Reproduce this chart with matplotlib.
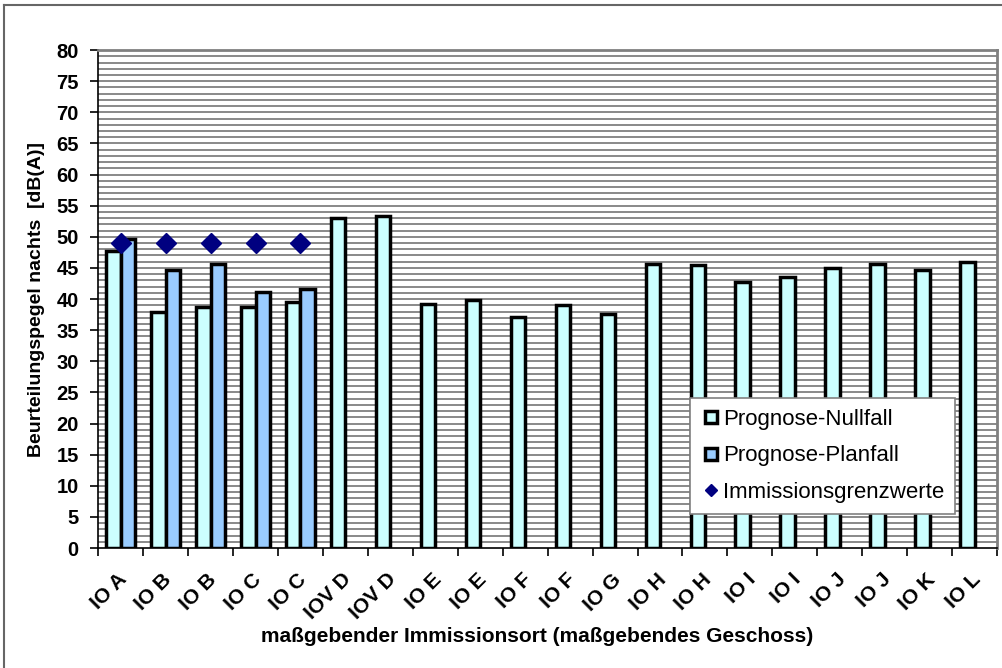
import numpy as np
import matplotlib
matplotlib.use("Agg")
import matplotlib.pyplot as plt
from matplotlib.lines import Line2D

plt.rcParams['font.family'] = ['Liberation Sans', 'DejaVu Sans']

# Daten
orte = ["IO A", "IO B", "IO B", "IO C", "IO C", "IOV D", "IOV D", "IO E", "IO E",
        "IO F", "IO F", "IO G", "IO H", "IO H", "IO I", "IO I", "IO J", "IO J",
        "IO K", "IO L"]
nullfall = [47.8, 37.9, 38.7, 38.7, 39.5, 53.0, 53.3, 39.2, 39.8, 37.1, 39.0,
            37.6, 45.7, 45.4, 42.7, 43.5, 45.0, 45.6, 44.6, 45.9]
planfall = [49.6, 44.6, 45.7, 41.1, 41.6]
grenzwerte = [49, 49, 49, 49, 49]

fig = plt.figure(figsize=(10.03, 6.68), dpi=100)
ax = fig.add_axes([0.098, 0.1796, 0.896, 0.7454])

x = np.arange(len(orte))
w = 0.32
ax.bar(x - 0.16, nullfall, w, color='#CCFFFF', edgecolor='black', linewidth=2.5, zorder=3)
xp = np.arange(len(planfall))
ax.bar(xp + 0.16, planfall, w, color='#99CCFF', edgecolor='black', linewidth=2.5, zorder=3)
ax.plot(xp, grenzwerte, linestyle='none', marker='D', markersize=10,
        color='#000080', zorder=4)

# dichte Gitterlinien
for v in range(1, 81):
    ax.axhline(v, color='#808080', linewidth=1.3, zorder=1)

ax.set_xlim(-0.5, len(orte) - 0.5)
ax.set_ylim(0, 80)
ax.set_yticks(range(0, 81, 5))
ax.set_xticks(np.arange(len(orte) + 1) - 0.5)
ax.set_xticklabels([])
ax.tick_params(axis='y', labelsize=14.5, length=6, width=1.2, direction='out', pad=8)
ax.tick_params(axis='x', length=6, width=1.2, direction='out')
for lab in ax.get_yticklabels():
    lab.set_fontweight('bold')

for i, name in enumerate(orte):
    ax.text(i - 0.08, -3.5, name, rotation=45, ha='right', va='top',
            rotation_mode='anchor', fontsize=15, fontweight='bold')

for s in ['top', 'right']:
    ax.spines[s].set_color('#808080')
    ax.spines[s].set_linewidth(2)
ax.spines['left'].set_linewidth(1.2)
ax.spines['bottom'].set_linewidth(1.2)

ax.set_ylabel('Beurteilungspegel nachts  [dB(A)]', fontsize=14, fontweight='bold', labelpad=8)
fig.text(0.536, 0.047, 'maßgebender Immissionsort (maßgebendes Geschoss)',
         ha='center', va='center', fontsize=15, fontweight='bold')

handles = [
    Line2D([], [], linestyle='none', marker='s', markersize=9, markerfacecolor='#CCFFFF',
           markeredgecolor='black', markeredgewidth=2.5),
    Line2D([], [], linestyle='none', marker='s', markersize=9, markerfacecolor='#99CCFF',
           markeredgecolor='black', markeredgewidth=2.5),
    Line2D([], [], linestyle='none', marker='D', markersize=6, color='#000080'),
]
leg = ax.legend(handles, ['Prognose-Nullfall', 'Prognose-Planfall', 'Immissionsgrenzwerte'],
                loc='upper left', bbox_to_anchor=(0.658, 0.302), fontsize=16,
                frameon=True, fancybox=False, framealpha=1, edgecolor='#808080',
                handletextpad=0.1, handlelength=0.9, labelspacing=0.7, borderpad=0.5,
                borderaxespad=0)
leg.get_frame().set_linewidth(1.2)
leg.set_zorder(5)

# Rahmen um die Grafik
fig.add_artist(Line2D([0.004, 0.999], [0.993, 0.993], color='#666666', linewidth=1.5))
fig.add_artist(Line2D([0.004, 0.004], [0.0, 0.993], color='#666666', linewidth=1.5))

fig.savefig('out.png', dpi=100)
